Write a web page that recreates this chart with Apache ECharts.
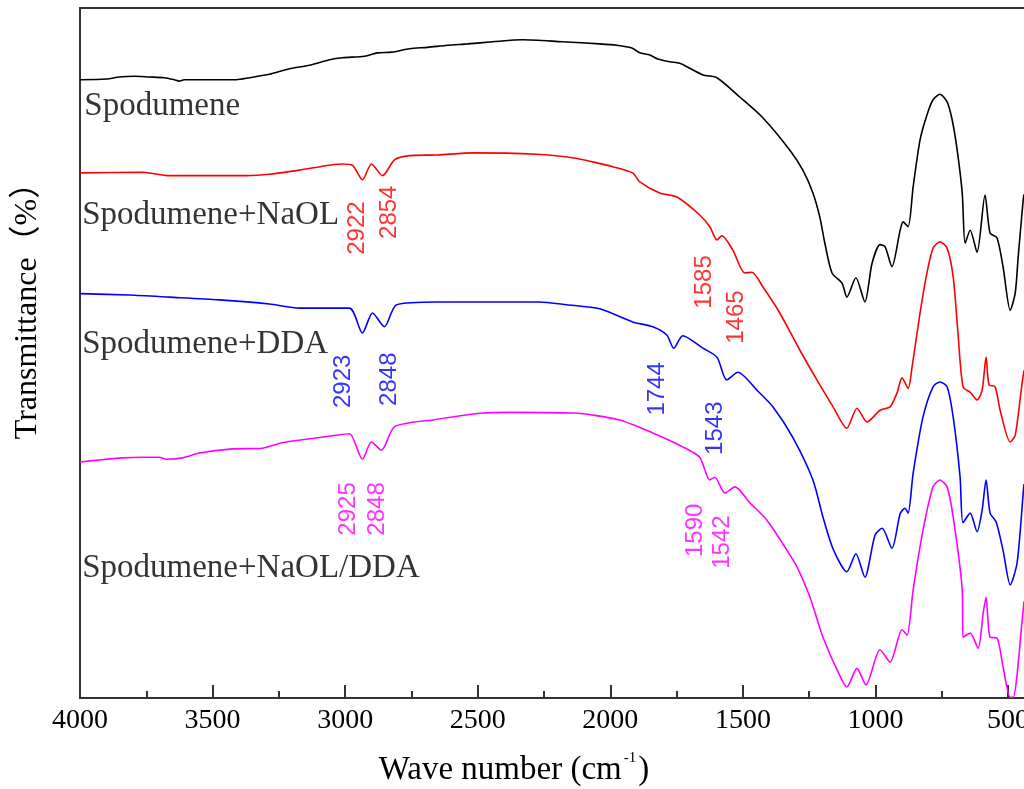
<!DOCTYPE html>
<html>
<head>
<meta charset="utf-8">
<script src="https://cdn.jsdelivr.net/npm/echarts@6/dist/echarts.min.js"></script>
<style>
html,body{margin:0;padding:0;background:#fff;}
#chart{width:1024px;height:789px;}
</style>
</head>
<body>
<div id="chart"></div>
<script>
// ---- Data (wavenumber cm^-1, offset transmittance %) ----
const majorTicks = [4000, 3500, 3000, 2500, 2000, 1500, 1000, 500];
const minorTicks = [3750, 3250, 2750, 2250, 1750, 1250, 750];

const spodumene = [
  [4000,89.6],[3901,89.7],[3852,90.0],[3795,90.1],[3739,90.0],[3682,89.9],[3644,89.6],[3626,89.4],[3607,89.6],
  [3410,89.6],[3361,89.9],[3286,90.4],[3210,91.2],[3135,91.7],[3059,92.5],[3010,92.8],[2927,93.0],[2878,93.5],
  [2825,93.6],[2757,94.1],[2689,94.3],[2614,94.6],[2538,94.8],[2444,95.1],[2331,95.4],[2180,95.1],[2040,94.8],
  [1976,94.6],[1919,94.2],[1889,93.5],[1851,93.2],[1821,92.6],[1776,92.2],[1738,92.0],[1651,90.3],[1598,89.9],
  [1512,87.1],[1425,84.1],[1323,79.4],[1274,76.5],[1236,73.2],[1210,69.7],[1191,65.9],[1164,61.6],[1126,60.1],
  [1108,58.1],[1074,60.9],[1040,57.4],[1013,63.0],[983,65.7],[964,65.4],[938,62.5],[907,67.8],[896,69.0],
  [877,68.3],[858,74.1],[832,80.9],[806,84.5],[783,86.7],[757,87.5],[730,86.4],[711,83.8],[692,79.4],[673,73.2],
  [662,65.9],[643,67.8],[617,64.6],[587,72.9],[568,67.4],[542,66.7],[519,62.5],[492,56.2],[473,58.7],[462,63.9],
  [443,72.2],[440,73.0]
];

const spodNaOL = [
  [4000,76.1],[3765,76.2],[3663,75.7],[3373,75.7],[3286,75.9],[3173,76.5],[3010,77.4],[2972,77.2],[2935,75.1],
  [2901,77.4],[2859,75.7],[2814,78.0],[2757,78.6],[2652,78.7],[2519,79.0],[2278,78.8],[2142,78.3],[2066,77.7],
  [1991,77.0],[1916,76.1],[1889,74.8],[1814,73.2],[1749,72.6],[1663,70.0],[1625,68.3],[1598,66.4],[1579,67.0],
  [1538,64.9],[1493,61.6],[1466,61.7],[1425,59.6],[1361,55.8],[1285,50.4],[1221,46.1],[1160,42.2],[1108,39.1],
  [1070,42.0],[1032,40.0],[983,41.7],[945,42.2],[919,44.2],[900,46.4],[877,44.9],[862,48.0],[832,55.8],
  [806,61.6],[783,65.2],[757,66.1],[730,65.2],[707,61.0],[689,52.9],[670,45.1],[643,44.3],[617,43.2],[598,44.6],
  [583,49.4],[572,45.4],[549,45.1],[530,41.7],[492,37.1],[473,38.1],[447,45.7],[440,47.5]
];

const spodDDA = [
  [4000,58.6],[3814,58.4],[3663,58.1],[3475,57.7],[3286,57.1],[3173,56.5],[2984,56.5],[2935,52.9],[2897,55.8],
  [2852,53.8],[2806,57.0],[2652,57.4],[2267,57.4],[2165,57.0],[2040,56.4],[1916,54.5],[1840,53.8],[1787,52.6],
  [1761,50.7],[1727,52.5],[1651,50.7],[1598,49.4],[1561,46.1],[1519,47.2],[1447,44.6],[1387,42.2],[1311,37.7],
  [1236,31.6],[1198,26.2],[1160,21.6],[1108,18.3],[1074,20.9],[1040,17.5],[1002,23.6],[975,24.6],[938,21.7],
  [907,26.7],[889,27.5],[877,26.8],[858,32.6],[821,40.7],[783,45.1],[757,45.8],[730,45.1],[707,40.7],[681,32.0],
  [670,25.4],[643,26.8],[617,24.1],[598,27.2],[583,31.6],[568,26.8],[545,25.5],[519,21.4],[492,16.4],[466,19.6],
  [443,29.7],[440,31.0]
];

const spodNaOLDDA = [
  [4000,34.2],[3928,34.5],[3841,34.8],[3765,34.9],[3701,34.9],[3675,34.6],[3614,34.8],[3550,35.5],[3425,36.1],
  [3312,36.2],[3237,37.0],[3146,37.5],[3048,38.0],[2984,38.3],[2935,34.6],[2901,37.1],[2863,35.9],[2814,39.3],
  [2670,40.3],[2482,41.3],[2380,41.4],[2142,41.3],[1965,40.3],[1840,38.4],[1727,36.4],[1663,34.9],[1625,31.6],
  [1606,32.0],[1568,29.7],[1530,30.6],[1474,28.3],[1410,25.8],[1334,21.4],[1296,19.0],[1247,14.6],[1198,8.8],
  [1145,4.1],[1108,1.6],[1070,4.3],[1036,1.9],[983,7.0],[945,5.2],[900,9.9],[881,9.1],[858,15.7],[821,24.3],
  [783,30.6],[757,31.6],[730,30.6],[707,26.2],[673,15.7],[670,8.8],[643,9.4],[613,7.2],[594,12.3],[583,14.6],
  [568,8.8],[542,8.7],[519,4.5],[492,0.1],[481,0.1],[443,12.8],[440,14.0]
];

const seriesNames = ['Spodumene', 'Spodumene+NaOL', 'Spodumene+DDA', 'Spodumene+NaOL/DDA'];
const seriesColors = ['#000000', '#ff0000', '#0000ff', '#ff00ff'];
// curve name labels: [text, wavenumber, T]
const nameLabels = [
  ['Spodumene', 3984, 85.7],
  ['Spodumene+NaOL', 3992, 70.0],
  ['Spodumene+DDA', 3992, 51.2],
  ['Spodumene+NaOL/DDA', 3992, 18.8]
];
// peak annotations: [text, wavenumber, T, seriesIndex]
const peakLabels = [
  ['2922', 2954, 68.1, 1], ['2854', 2833, 70.4, 1], ['1585', 1644, 60.3, 1], ['1465', 1523, 55.2, 1],
  ['2923', 3006, 45.9, 2], ['2848', 2833, 46.2, 2], ['1744', 1821, 44.8, 2], ['1543', 1602, 39.1, 2],
  ['2925', 2988, 27.4, 3], ['2848', 2878, 27.4, 3], ['1590', 1678, 24.3, 3], ['1542', 1579, 22.6, 3]
];

const chart = echarts.init(document.getElementById('chart'), null, {renderer: 'canvas'});
const serif = '"Liberation Serif", "Times New Roman", serif';
const axisColor = '#333333';
const xMin = 440, xMax = 4000;

const lineSeries = [spodumene, spodNaOL, spodDDA, spodNaOLDDA].map((d, i) => ({
  type: 'line', name: seriesNames[i], data: d, showSymbol: false, symbol: 'none',
  smooth: 0.25, lineStyle: {color: seriesColors[i], width: 1.6}, z: 3, silent: true
}));

const option = {
  animation: false,
  backgroundColor: '#fff',
  grid: {left: 80, right: 0, top: 8, bottom: 91, containLabel: false, outerBoundsMode: 'none'},
  xAxis: [
    {
      type: 'value', min: xMin, max: xMax, inverse: true, position: 'bottom',
      axisLine: {show: true, onZero: false, lineStyle: {color: axisColor, width: 2}},
      axisTick: {show: true, inside: true, length: 13, customValues: majorTicks, lineStyle: {color: axisColor, width: 2}},
      axisLabel: {show: true, customValues: majorTicks, margin: 9, color: '#000', fontFamily: serif, fontSize: 28,
        formatter: v => String(v), hideOverlap: false},
      splitLine: {show: false}
    },
    {
      type: 'value', min: xMin, max: xMax, inverse: true, position: 'bottom',
      axisLine: {show: false, onZero: false},
      axisTick: {show: true, inside: true, length: 7, customValues: minorTicks, lineStyle: {color: axisColor, width: 2}},
      axisLabel: {show: false}, splitLine: {show: false}
    },
    {
      type: 'value', min: xMin, max: xMax, inverse: true, position: 'top',
      axisLine: {show: true, onZero: false, lineStyle: {color: axisColor, width: 2}},
      axisTick: {show: false}, axisLabel: {show: false}, splitLine: {show: false}
    }
  ],
  yAxis: {
    type: 'value', min: 0, max: 100,
    axisLine: {show: true, onZero: false, lineStyle: {color: axisColor, width: 2}},
    axisTick: {show: false}, axisLabel: {show: false}, splitLine: {show: false}
  },
  series: lineSeries.concat([
    {
      type: 'scatter', symbolSize: 0.1, itemStyle: {color: 'rgba(0,0,0,0)'}, silent: true, z: 5,
      data: nameLabels.map(l => ({value: [l[1], l[2]], name: l[0]})),
      label: {show: true, position: 'right', distance: 0, formatter: p => p.name,
        color: '#000', textBorderWidth: 0, fontFamily: serif, fontSize: 33}
    },
    {
      type: 'scatter', symbolSize: 0.1, itemStyle: {color: 'rgba(0,0,0,0)'}, silent: true, z: 5,
      data: peakLabels.map(l => ({value: [l[1], l[2]], name: l[0],
        label: {color: seriesColors[l[3]]}})),
      label: {show: true, position: 'inside', rotate: 90, formatter: p => p.name, textBorderWidth: 0,
        fontFamily: '"Liberation Sans", Arial, sans-serif', fontSize: 24}
    }
  ]),
  graphic: [
    {
      type: 'text', x: 514, y: 770, silent: true,
      style: {
        text: '{a|Wave number (cm}{s|-1}{a|)}',
        align: 'center', verticalAlign: 'middle',
        rich: {
          a: {fontFamily: serif, fontSize: 33, fill: '#000', lineHeight: 38},
          s: {fontFamily: serif, fontSize: 15, fill: '#000', verticalAlign: 'top', lineHeight: 38, padding: [0, 2, 14, 2]}
        }
      }
    },
    {
      type: 'text', x: 28, y: 303, rotation: Math.PI / 2, silent: true,
      style: {
        text: 'Transmittance（%）', align: 'center', verticalAlign: 'middle',
        font: '32px "Liberation Serif", "Noto Sans CJK SC", serif', fill: '#000'
      }
    }
  ]
};
chart.setOption(option);
</script>
</body>
</html>
